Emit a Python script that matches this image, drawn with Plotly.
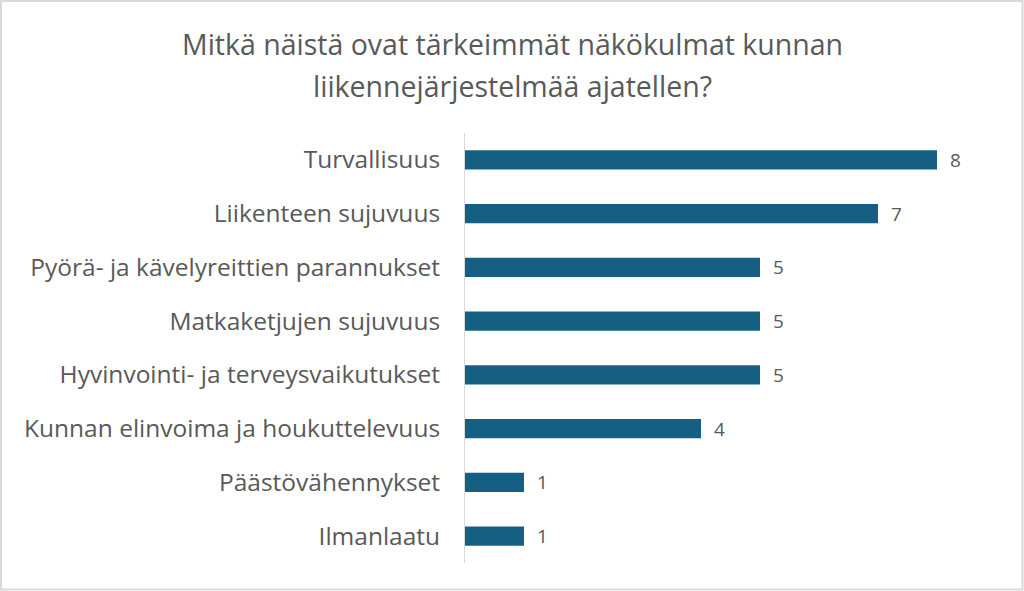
import plotly.graph_objects as go

categories = [
    "Turvallisuus",
    "Liikenteen sujuvuus",
    "Pyörä- ja kävelyreittien parannukset",
    "Matkaketjujen sujuvuus",
    "Hyvinvointi- ja terveysvaikutukset",
    "Kunnan elinvoima ja houkuttelevuus",
    "Päästövähennykset",
    "Ilmanlaatu",
]
values = [8, 7, 5, 5, 5, 4, 1, 1]
title_lines = ["Mitkä näistä ovat tärkeimmät näkökulmat kunnan", "liikennejärjestelmää ajatellen?"]

W, H = 1024, 591
L, R, T, B = 465, 28, 133, 28
pw, ph = W - L - R, H - T - B

def px(x):
    return (x - L) / pw

def py(y):
    return (H - B - y) / ph

FONT = "Open Sans"
GREY = "#595959"

fig = go.Figure(go.Bar(
    x=values, y=categories, orientation="h",
    marker=dict(color="#156082", line=dict(width=0)),
    width=0.36,
))

for c, v in zip(categories, values):
    fig.add_annotation(x=v, y=c, text=str(v), showarrow=False, xanchor="left",
                       xshift=11, font=dict(family=FONT, size=19, color=GREY))

for i, t in enumerate(title_lines):
    fig.add_annotation(xref="paper", yref="paper", x=px(512), y=py(44 + 42 * i),
                       text=t, showarrow=False, xanchor="center", yanchor="middle",
                       font=dict(family=FONT, size=28.5, color=GREY))

fig.add_shape(type="rect", xref="paper", yref="paper",
              x0=px(1), x1=px(1022.5), y0=py(589.5), y1=py(1),
              line=dict(color="#d9d9d9", width=2))

fig.update_layout(
    width=W, height=H,
    margin=dict(l=L, r=R, t=T, b=B),
    paper_bgcolor="white", plot_bgcolor="white",
    showlegend=False,
    font=dict(family=FONT, color=GREY),
)
fig.update_xaxes(range=[0, 9], visible=False, showgrid=False, zeroline=False)
fig.update_yaxes(autorange="reversed", showgrid=False, zeroline=False,
                 showline=True, linecolor="#d9d9d9", linewidth=1,
                 ticks="", ticklabelstandoff=19,
                 tickfont=dict(family=FONT, size=24.5, color=GREY))

fig.write_html("out.html")
